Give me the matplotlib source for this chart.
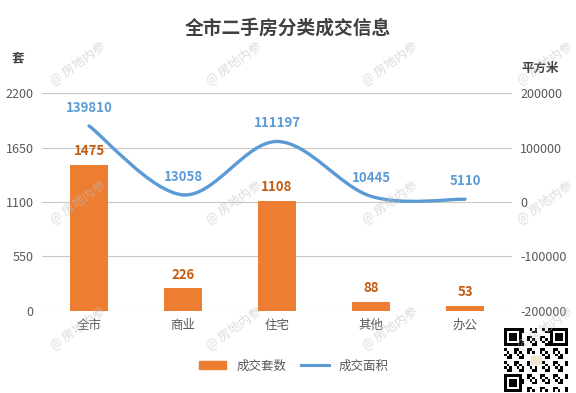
import numpy as np
import matplotlib
matplotlib.use('Agg')
import matplotlib.pyplot as plt
from matplotlib.path import Path
from matplotlib.patches import PathPatch, Rectangle
from matplotlib.lines import Line2D

plt.rcParams['font.family'] = ['Noto Sans CJK SC', 'DejaVu Sans']
plt.rcParams['axes.unicode_minus'] = False

# 数据
categories = ['全市', '商业', '住宅', '其他', '办公']
units = [1475, 226, 1108, 88, 53]            # 成交套数
area = [139810, 13058, 111197, 10445, 5110]  # 成交面积
left_ticks = [0, 550, 1100, 1650, 2200]
right_ticks = [-200000, -100000, 0, 100000, 200000]

bar_color = '#ED7D31'
line_color = '#5B9BD5'
text_color = '#595959'

fig = plt.figure(figsize=(5.76, 3.93), dpi=100)
ax = fig.add_axes([0.073, 0.209, 0.816, 0.554])
ax2 = ax.twinx()

x = np.arange(len(categories))
ax.bar(x, units, width=0.4, color=bar_color, zorder=2)
for xi, v in zip(x, units):
    ax.annotate(str(v), (xi, v), xytext=(0, 5), textcoords='offset points',
                ha='center', va='bottom', fontsize=9.5, fontweight='bold',
                color='#C55A11')

ax.set_xlim(-0.5, len(categories) - 0.5)
ax.set_ylim(0, 2200)
ax.set_yticks(left_ticks)
ax.set_xticks(x)
ax.set_xticklabels(categories)
ax.grid(axis='y', color='#c8c8c8', lw=0.8, zorder=0)
ax.set_axisbelow(True)
for s in ax.spines.values():
    s.set_visible(False)
for s in ax2.spines.values():
    s.set_visible(False)
ax.tick_params(axis='both', length=0, labelsize=9, colors=text_color)
ax.tick_params(axis='x', pad=6)
ax.tick_params(axis='y', pad=6)

# 平滑曲线 (贝塞尔)
pts = np.column_stack([x, area]).astype(float)
n = len(pts)
verts = [pts[0]]
codes = [Path.MOVETO]
for i in range(n - 1):
    p0 = pts[i - 1] if i > 0 else pts[i]
    p1 = pts[i]
    p2 = pts[i + 1]
    p3 = pts[i + 2] if i + 2 < n else pts[i + 1]
    verts += [p1 + (p2 - p0) / 6, p2 - (p3 - p1) / 6, p2]
    codes += [Path.CURVE4] * 3
ax2.add_patch(PathPatch(Path(verts, codes), fill=False, ec=line_color,
                        lw=2.4, capstyle='round', zorder=3))
for xi, v in zip(x, area):
    ax2.annotate(str(v), (xi, v), xytext=(0, 8), textcoords='offset points',
                 ha='center', va='bottom', fontsize=9.5, fontweight='bold',
                 color=line_color)

ax2.set_ylim(-200000, 200000)
ax2.set_yticks(right_ticks)
ax2.tick_params(axis='y', length=0, labelsize=9, colors=text_color, pad=6)

fig.text(0.5, 0.929, '全市二手房分类成交信息', ha='center', va='center',
         fontsize=13.5, fontweight='bold', color='#404040')
fig.text(0.031, 0.852, '套', ha='center', va='center', fontsize=9,
         fontweight='bold', color='#404040')
fig.text(0.938, 0.827, '平方米', ha='center', va='center', fontsize=9,
         fontweight='bold', color='#404040')

handles = [Rectangle((0, 0), 1, 1, color=bar_color),
           Line2D([0], [0], color=line_color, lw=2.2)]
fig.legend(handles, ['成交套数', '成交面积'], loc='center',
           bbox_to_anchor=(0.51, 0.069), ncol=2, frameon=False, fontsize=9,
           handlelength=2.2, handleheight=0.6, columnspacing=1.2,
           labelcolor=text_color)

# 水印
for wy in [0.84, 0.486, 0.165]:
    for wx in [0.135, 0.405, 0.677, 0.946]:
        fig.text(wx, wy, '@ 房地内参', ha='center', va='center', fontsize=9,
                 rotation=35, color='#c0c0c0', alpha=0.55, zorder=10)

# 二维码
qr = fig.add_axes([504 / 576, 1 - 392 / 393, 64 / 576, 64 / 393])
m = 25
grid = np.zeros((m, m))
ii, jj = np.meshgrid(np.arange(m), np.arange(m), indexing='ij')
grid[((ii * 7 + jj * 3 + ii * jj) % 5) < 2] = 1
for (r, c) in [(0, 0), (0, m - 7), (m - 7, 0)]:
    grid[r:r + 7, c:c + 7] = 1
    grid[r + 1:r + 6, c + 1:c + 6] = 0
    grid[r + 2:r + 5, c + 2:c + 5] = 1
grid[10:15, 10:15] = 0
qr.imshow(grid, cmap='Greys', interpolation='nearest')
qr.add_patch(Rectangle((10, 10.5), 4, 3, color='#f2e6d0'))
qr.axis('off')

fig.savefig('out.png', dpi=100)
